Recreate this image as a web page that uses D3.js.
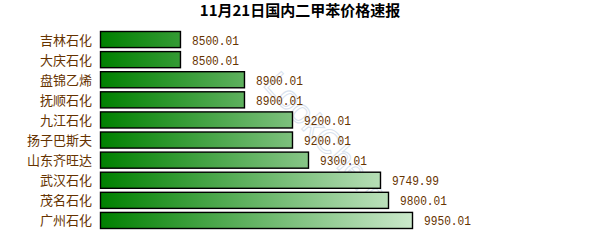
<!DOCTYPE html>
<html>
<head>
<meta charset="utf-8">
<script src="https://cdn.jsdelivr.net/npm/d3@7"></script>
<style>
  body { margin: 0; background: #fff; }
  svg { display: block; }
</style>
</head>
<body>
<div id="chart"></div>
<script>
const title = "11月21日国内二甲苯价格速报";
const companies = ["吉林石化", "大庆石化", "盘锦乙烯", "抚顺石化", "九江石化", "扬子巴斯夫", "山东齐旺达", "武汉石化", "茂名石化", "广州石化"];
const prices = [8500.01, 8500.01, 8900.01, 8900.01, 9200.01, 9200.01, 9300.01, 9749.99, 9800.01, 9950.01];
const priceLabels = ["8500.01", "8500.01", "8900.01", "8900.01", "9200.01", "9200.01", "9300.01", "9749.99", "9800.01", "9950.01"];

const width = 600, height = 250;
const svg = d3.select("#chart").append("svg")
    .attr("width", width)
    .attr("height", height);

// gradient across the plot, dark green to pale green
const grad = svg.append("defs").append("linearGradient")
    .attr("id", "barGrad")
    .attr("gradientUnits", "userSpaceOnUse")
    .attr("x1", 100).attr("x2", 420).attr("y1", 0).attr("y2", 0);
grad.append("stop").attr("offset", "0%").attr("stop-color", "#008000");
grad.append("stop").attr("offset", "100%").attr("stop-color", "#d0ebd0");

// watermark
svg.append("text")
    .attr("transform", "translate(262,85) rotate(48)")
    .attr("font-family", "Liberation Sans, sans-serif")
    .attr("font-size", 34)
    .attr("fill", "none")
    .attr("stroke", "#c9d6e8")
    .attr("stroke-width", 1)
    .attr("opacity", 0.7)
    .text("LookChem");
svg.append("text")
    .attr("x", 146).attr("y", 201)
    .attr("font-family", "DejaVu Sans, sans-serif")
    .attr("font-size", 8)
    .attr("fill", "#2f6d2f")
    .attr("opacity", 0.6)
    .text("www.lookchem.cn");

const x = d3.scaleLinear()
    .domain([7994, 9950.01])
    .range([100, 413]);

const y = d3.scaleBand()
    .domain(companies)
    .range([30, 230])
    .paddingInner(0.15)
    .paddingOuter(0.05);

svg.append("text")
    .attr("x", 300).attr("y", 16)
    .attr("text-anchor", "middle")
    .attr("font-family", "Noto Sans CJK SC, sans-serif")
    .attr("font-weight", "bold")
    .attr("font-size", 15)
    .attr("fill", "#000")
    .text(title);

const rows = svg.append("g")
    .selectAll("g")
    .data(companies)
    .join("g");

rows.append("rect")
    .attr("x", x(7994) + 0.5)
    .attr("y", d => y(d) + 0.5)
    .attr("width", (d, i) => x(prices[i]) - x(7994) - 1)
    .attr("height", y.bandwidth() - 1)
    .attr("fill", "url(#barGrad)")
    .attr("stroke", "#000")
    .attr("stroke-width", 1.4);

rows.append("text")
    .attr("x", 92)
    .attr("y", d => y(d) + y.bandwidth() / 2 + 5)
    .attr("text-anchor", "end")
    .attr("font-family", "Noto Sans CJK SC, sans-serif")
    .attr("font-size", 13)
    .attr("fill", "#663300")
    .text(d => d);

rows.append("text")
    .attr("x", (d, i) => x(prices[i]) + 11)
    .attr("y", d => y(d) + y.bandwidth() / 2 + 5)
    .attr("font-family", "Liberation Mono, monospace")
    .attr("font-size", 13)
    .attr("textLength", 47)
    .attr("lengthAdjust", "spacingAndGlyphs")
    .attr("fill", "#663300")
    .text((d, i) => priceLabels[i]);
</script>
</body>
</html>
